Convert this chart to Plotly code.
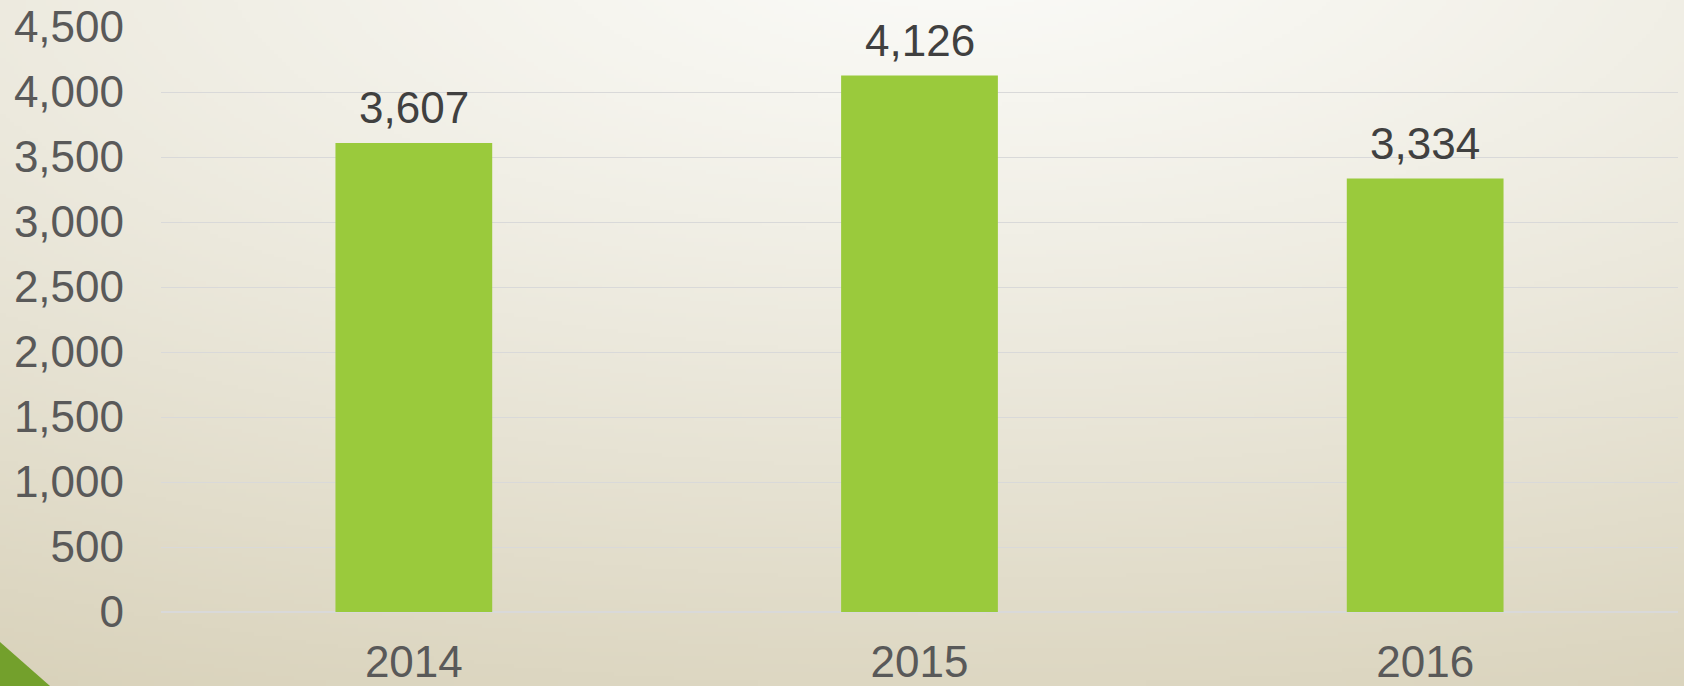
import base64, struct, zlib
import numpy as np
import plotly.graph_objects as go

# ---- data ----
years = ["2014", "2015", "2016"]
values = [3607, 4126, 3334]
y_ticks = [0, 500, 1000, 1500, 2000, 2500, 3000, 3500, 4000, 4500]
y_ticktext = ["0", "500", "1,000", "1,500", "2,000", "2,500", "3,000", "3,500", "4,000", "4,500"]

W, H = 1684, 686

# ---- background gradient image (styling only) ----
def make_png(w, h):
    ys, xs = np.mgrid[0:h, 0:w].astype(float)
    X = xs * W / w
    Y = ys * H / h
    cx, cy = 950.0, -50.0
    t = np.sqrt(((X - cx) / 1900.0) ** 2 + ((Y - cy) / 736.0) ** 2)
    t = np.clip(t, 0, 1.25) ** 1.15
    c0 = np.array([251, 251, 248], float)
    c1 = np.array([221, 215, 194], float)
    img = c0[None, None, :] + (c1 - c0)[None, None, :] * t[:, :, None]
    img = np.clip(img, 0, 255).astype(np.uint8)
    raw = b"".join(b"\x00" + img[r].tobytes() for r in range(h))
    def chunk(tag, data):
        c = struct.pack(">I", len(data)) + tag + data
        return c + struct.pack(">I", zlib.crc32(tag + data) & 0xFFFFFFFF)
    png = b"\x89PNG\r\n\x1a\n" + chunk(b"IHDR", struct.pack(">IIBBBBB", w, h, 8, 2, 0, 0, 0))
    png += chunk(b"IDAT", zlib.compress(raw, 9)) + chunk(b"IEND", b"")
    return "data:image/png;base64," + base64.b64encode(png).decode()

bg = make_png(421, 172)

FONT = "Liberation Sans, Arial, sans-serif"
FS = 44

fig = go.Figure()
fig.add_trace(go.Bar(
    x=years, y=values,
    marker=dict(color="#9aca3c", line=dict(width=0)),
    width=0.31,
    hoverinfo="x+y",
))

for i, v in enumerate(values):
    fig.add_annotation(
        x=i, y=v, xref="x", yref="y",
        text=f"{v:,}", showarrow=False,
        xanchor="center", yanchor="bottom", yshift=9,
        font=dict(family=FONT, size=FS, color="#404040"),
    )

# bottom-left decorative triangle
fig.add_shape(type="path", xref="paper", yref="paper",
              path=f"M 0 {1-642/H} L {50/W} 0 L 0 0 Z",
              fillcolor="#73a02c", line=dict(width=0), layer="above")

fig.update_layout(
    width=W, height=H,
    margin=dict(l=0, r=0, t=0, b=0, pad=0, autoexpand=False),
    paper_bgcolor="#eeece2",
    plot_bgcolor="rgba(0,0,0,0)",
    showlegend=False,
    bargap=0.69,
    images=[dict(source=bg, xref="paper", yref="paper", x=0, y=1,
                 sizex=1, sizey=1, sizing="stretch", layer="below",
                 xanchor="left", yanchor="top")],
    xaxis=dict(
        type="category",
        range=[-0.5, 2.5],
        domain=[161 / W, 1678 / W],
        automargin=False,
        showgrid=False, zeroline=False, showline=False,
        ticks="", tickfont=dict(family=FONT, size=FS, color="#595959"),
        ticklabelstandoff=20,
    ),
    yaxis=dict(
        domain=[1 - 612 / H, 1 - 27 / H],
        range=[0, 4500],
        automargin=False,
        tickvals=y_ticks, ticktext=y_ticktext,
        showgrid=True, gridcolor="#d9d9d9", gridwidth=1.3,
        zeroline=True, zerolinecolor="#d9d9d9", zerolinewidth=1.5,
        showline=False, ticks="",
        tickfont=dict(family=FONT, size=FS, color="#595959"),
        ticklabelstandoff=36,
    ),
)

fig.write_html("out.html", config={"displayModeBar": False},
               post_script="document.body.style.margin='0px';")
